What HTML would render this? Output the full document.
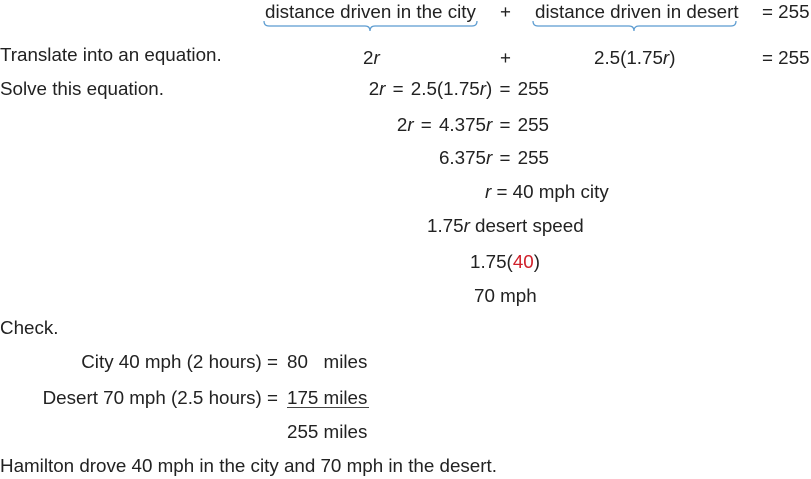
<!DOCTYPE html>
<html><head><meta charset="utf-8"><style>
body{margin:0;width:811px;height:479px;background:#fff;position:relative;overflow:hidden;font-family:"Liberation Sans",sans-serif;font-size:18.8px;color:#222}
.t{position:absolute;line-height:20px;white-space:pre}
.r{text-align:right;word-spacing:2px}
i{font-style:italic}
</style></head><body>
<div class="t" style="left:265px;top:2px">distance driven in the city</div>
<div class="t" style="left:500px;top:2px">+</div>
<div class="t" style="left:535px;top:2px">distance driven in desert</div>
<div class="t" style="left:762px;top:2px">= 255</div>
<svg style="position:absolute;left:0;top:0" width="811" height="40">
<path d="M264 21 Q264 26 269 26 L365 26 Q370 26 370 31 Q370 26 375 26 L472 26 Q477 26 477 21" fill="none" stroke="#5b9bd0" stroke-width="1.2"/>
<path d="M533 21 Q533 26 538 26 L629 26 Q634 26 634 31 Q634 26 639 26 L731 26 Q736 26 736 21" fill="none" stroke="#5b9bd0" stroke-width="1.2"/>
</svg>
<div class="t" style="left:0;top:45px">Translate into an equation.</div>
<div class="t" style="left:363px;top:48px">2<i>r</i></div>
<div class="t" style="left:500px;top:48px">+</div>
<div class="t" style="left:594px;top:48px">2.5(1.75<i>r</i>)</div>
<div class="t" style="left:762px;top:48px">= 255</div>
<div class="t" style="left:0;top:79px">Solve this equation.</div>
<div class="t r" style="right:262px;top:79px">2<i>r</i> = 2.5(1.75<i>r</i>) = 255</div>
<div class="t r" style="right:262px;top:115px">2<i>r</i> = 4.375<i>r</i> = 255</div>
<div class="t r" style="right:262px;top:148px">6.375<i>r</i> = 255</div>
<div class="t" style="left:485px;top:182px"><i>r</i> = 40 mph city</div>
<div class="t" style="left:427px;top:216px">1.75<i>r</i> desert speed</div>
<div class="t" style="left:470px;top:252px">1.75(<span style="color:#d0202a">40</span>)</div>
<div class="t" style="left:474px;top:286px">70 mph</div>
<div class="t" style="left:0;top:318px">Check.</div>
<div class="t r" style="right:533px;top:352px;word-spacing:0">City 40 mph (2 hours) =</div>
<div class="t" style="left:287px;top:352px">80   miles</div>
<div class="t r" style="right:533px;top:388px;word-spacing:0">Desert 70 mph (2.5 hours) =</div>
<div class="t" style="left:287px;top:388px">175 miles</div>
<div style="position:absolute;left:287px;top:407px;width:82px;height:1px;background:#444"></div>
<div class="t" style="left:287px;top:422px">255 miles</div>
<div class="t" style="left:0;top:456px">Hamilton drove 40 mph in the city and 70 mph in the desert.</div>
</body></html>
